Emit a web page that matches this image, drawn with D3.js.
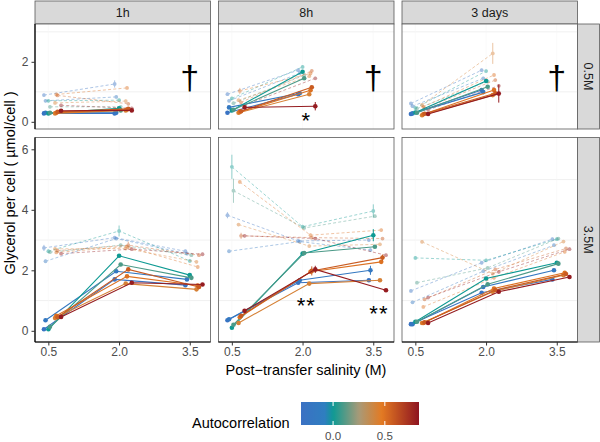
<!DOCTYPE html>
<html><head><meta charset="utf-8">
<script src="https://cdn.jsdelivr.net/npm/d3@7"></script>
<style>body{margin:0;background:#fff;} text{font-family:"Liberation Sans", Arial, Helvetica, sans-serif;}</style>
</head><body><svg id="c" width="600" height="442"></svg>
<script>
// ---------------- data ----------------
const times = ["1h", "8h", "3 days"];
const salts = ["0.5M", "3.5M"];
const salinity = [0.5, 2.0, 3.5];
const xTicks = [0.5, 2.0, 3.5];
const yTicksTop = [0, 2];
const yTicksBottom = [0, 2, 4, 6];
const legendTicks = [0.0, 0.5];
// autocorrelation of each strain (colour + horizontal offset)
const autocorr = [-0.28, -0.18, 0.0, 0.1, 0.42, 0.5, 0.58, 0.8];

// solid series (per strain), values at 0.5, 2.0, 3.5 M
const solid_05M_1h = [[0.28,0.28],[0.30,0.30],[0.28,0.45],[0.30,0.38],[0.28,0.38],[0.30,0.41],[0.33,0.43],[0.37,0.38]];
const solid_05M_8h = [[0.30,0.92],[0.48,0.95],[0.38,1.67],[0.40,1.45],[0.30,0.92],[0.33,1.05],[0.35,1.15],[0.48,0.52]];
const solid_05M_3d = [[0.26,1.06],[0.28,0.99],[0.31,1.36],[0.30,1.17],[0.22,0.89],[0.25,1.06],[0.27,0.95],[0.26,0.94]];
const solid_35M_1h = [[0.05,1.70,1.51],[0.35,1.97,1.70],[0.05,2.48,1.84],[0.13,2.19,1.75],[0.42,1.56,1.37],[0.50,1.80,1.50],[0.45,2.03,1.45],[0.46,1.59,1.53]];
const solid_35M_8h = [[0.35,1.59,1.67],[0.38,1.67,2.00],[0.10,2.55,3.16],[0.20,2.57,2.78],[0.26,1.56,1.67],[0.45,1.95,2.28],[0.50,1.98,2.42],[0.66,2.03,1.34]];
const solid_35M_3d = [[0.22,1.26,1.70],[0.22,1.45,2.00],[0.30,1.73,2.25],[0.30,1.54,2.22],[0.26,1.29,1.84],[0.26,1.40,1.92],[0.28,1.35,1.88],[0.26,1.29,1.78]];
// dashed (faint) series
const dashed_05M_1h = [[0.89,1.26],[0.70,0.83],[0.70,0.72],[0.50,0.50],[0.63,0.69],[0.91,1.13],[0.88,0.60],[0.55,0.45]];
const dashed_05M_8h = [[0.92,1.72],[0.70,1.62],[0.78,1.83],[0.62,1.55],[0.72,1.52],[1.03,1.61],[0.65,1.70],[0.55,1.45]];
const dashed_05M_3d = [[0.61,1.72],[0.52,1.45],[0.46,1.69],[0.44,1.35],[0.56,2.28],[0.50,1.56],[0.45,1.39],[0.40,1.20]];
const dashed_35M_1h = [[2.74,3.08,2.63],[2.30,3.05,2.55],[2.63,3.30,2.31],[2.60,2.83,2.50],[2.71,2.72,2.28],[2.59,2.78,2.11],[2.65,2.83,2.50],[2.55,2.70,2.53]];
const dashed_35M_8h = [[3.82,2.97,3.00],[2.63,2.95,2.67],[5.42,3.44,3.96],[4.63,3.40,3.79],[3.51,2.80,2.86],[4.92,3.16,3.33],[3.14,3.08,3.05],[3.14,3.05,2.50]];
const dashed_35M_3d = [[1.32,2.25,3.03],[0.94,1.97,2.83],[2.41,2.33,3.03],[1.59,2.08,3.05],[2.94,1.89,2.95],[0.79,1.75,2.61],[1.04,2.03,2.72],[1.10,1.95,2.70]];
// larger error bars: [row, col, dashed?, strain, pointIndex, halfWidth]
const bigErrors = [
  [0,0,1,0,1,0.12],[0,1,0,7,1,0.14],[0,1,1,5,0,0.10],[0,2,0,7,1,0.30],[0,2,1,4,1,0.35],
  [1,0,1,2,1,0.18],[1,0,1,6,1,0.12],[1,0,1,0,0,0.10],[1,1,1,2,0,0.40],[1,1,1,3,0,0.40],
  [1,1,1,2,2,0.22],[1,1,0,2,2,0.20],[1,1,0,7,1,0.12],[1,1,0,1,2,0.15],[1,1,0,6,1,0.15],
  [1,1,1,0,0,0.10],[1,1,0,6,2,0.10],[1,1,1,6,0,0.10]
];
const daggerLabel = "†";
const sigLabels = [[0,1,2.08,0.18,"*"],[1,1,2.08,1.0,"**"],[1,1,3.62,0.72,"**"]];

const seriesTable = [
  [solid_05M_1h, solid_05M_8h, solid_05M_3d],
  [solid_35M_1h, solid_35M_8h, solid_35M_3d]
];
const dashedTable = [
  [dashed_05M_1h, dashed_05M_8h, dashed_05M_3d],
  [dashed_35M_1h, dashed_35M_8h, dashed_35M_3d]
];

// ---------------- layout ----------------
const svg = d3.select("#c");
const W = 175.5, gapX = 8;
const colX = [35, 35 + W + gapX, 35 + 2 * (W + gapX)];
const rowY = [24, 137.5];
const rowH = [105, 204.5];
const yDomains = [[-0.24, 3.26], [-0.37, 6.39]];
const stripH = 23;

const x = d3.scaleLinear().domain([0.217, 3.94]).range([0, W]);
const dodge = d3.scaleLinear().domain([-0.3, 0.8]).range([-0.1, 0.27]);
const color = d3.scaleLinear()
  .domain([-0.31, -0.08, 0.0, 0.25, 0.47, 0.83])
  .range(["#3b71c3", "#2f7ec0", "#0e9a93", "#a89a78", "#e37a22", "#8e1420"])
  .interpolate(d3.interpolateRgb);

// strips
times.forEach((t, j) => {
  const g = svg.append("g").attr("transform", `translate(${colX[j]},1)`);
  g.append("rect").attr("width", W).attr("height", stripH).attr("fill", "#d9d9d9").attr("stroke", "#595959").attr("stroke-width", 0.8);
  g.append("text").attr("x", W / 2).attr("y", stripH / 2 + 4.5).attr("text-anchor", "middle").attr("font-size", 12.5).attr("fill", "#1a1a1a").text(t);
});
salts.forEach((s, i) => {
  const g = svg.append("g").attr("transform", `translate(${colX[2] + W},${rowY[i]})`);
  g.append("rect").attr("width", 22).attr("height", rowH[i]).attr("fill", "#d9d9d9").attr("stroke", "#595959").attr("stroke-width", 0.8);
  g.append("text").attr("transform", `translate(${11 - 4.5},${rowH[i] / 2}) rotate(90)`).attr("text-anchor", "middle").attr("font-size", 12.5).attr("fill", "#1a1a1a").text(s);
});

salts.forEach((s, i) => {
  const y = d3.scaleLinear().domain(yDomains[i]).range([rowH[i], 0]);
  const minor = i === 0 ? [1, 3] : [1, 3, 5];
  times.forEach((t, j) => {
    const g = svg.append("g").attr("transform", `translate(${colX[j]},${rowY[i]})`);
    g.append("rect").attr("width", W).attr("height", rowH[i]).attr("fill", "#fff");
    // grid
    g.selectAll(".gm").data(minor).join("line").attr("x1", 0).attr("x2", W)
      .attr("y1", d => y(d)).attr("y2", d => y(d)).attr("stroke", "#ececec").attr("stroke-width", 0.8);
    g.selectAll(".gv").data(xTicks).join("line").attr("y1", 0).attr("y2", rowH[i])
      .attr("x1", d => x(d)).attr("x2", d => x(d)).attr("stroke", "#f6f6f6").attr("stroke-width", 0.6);

    const clip = g.append("g");
    const line = d3.line().defined(d => d[1] != null).x(d => x(d[0])).y(d => y(d[1]));
    const draw = (table, dashed) => {
      table.forEach((vals, k) => {
        const c = color(autocorr[k]);
        const pts = vals.map((v, p) => [salinity[p] + dodge(autocorr[k]), v, p]);
        const grp = clip.append("g").attr("opacity", dashed ? 0.45 : 1);
        grp.append("path").attr("d", line(pts)).attr("fill", "none").attr("stroke", c)
          .attr("stroke-width", dashed ? 0.9 : 1.1).attr("stroke-dasharray", dashed ? "3,2.2" : null);
        pts.forEach(pt => {
          let e = 0.05;
          bigErrors.forEach(b => { if (b[0] === i && b[1] === j && b[2] === (dashed ? 1 : 0) && b[3] === k && b[4] === pt[2]) e = b[5]; });
          grp.append("line").attr("x1", x(pt[0])).attr("x2", x(pt[0])).attr("y1", y(pt[1] - e)).attr("y2", y(pt[1] + e))
            .attr("stroke", c).attr("stroke-width", 1);
          grp.append("circle").attr("cx", x(pt[0])).attr("cy", y(pt[1])).attr("r", dashed ? 1.9 : 2.3).attr("fill", c);
        });
      });
    };
    draw(dashedTable[i][j], true);
    draw(seriesTable[i][j], false);

    if (i === 0) {
      g.append("text").attr("x", x(3.5)).attr("y", y(1.5) + 12).attr("text-anchor", "middle")
        .attr("font-size", 34).attr("fill", "#000").text(daggerLabel);
    }
    sigLabels.filter(l => l[0] === i && l[1] === j).forEach(l => {
      g.append("text").attr("x", x(l[2])).attr("y", y(l[3]) + 12).attr("text-anchor", "middle")
        .attr("font-size", 22).attr("fill", "#000").attr("letter-spacing", 1).text(l[4]);
    });

    // border
    g.append("rect").attr("width", W).attr("height", rowH[i]).attr("fill", "none").attr("stroke", "#595959").attr("stroke-width", 0.8);

    if (j === 0) {
      const ax = g.append("g").call(d3.axisLeft(y).tickValues(i === 0 ? yTicksTop : yTicksBottom).tickFormat(d3.format("d")).tickSize(3.5).tickPadding(3));
      ax.select(".domain").attr("stroke", "#000").attr("stroke-width", 1.2).attr("d", `M0,0V${rowH[i]}`);
      ax.selectAll(".tick line").attr("stroke", "#333");
      ax.selectAll("text").attr("font-size", 12).attr("fill", "#4d4d4d").style("font-family", '"Liberation Sans", Arial, sans-serif');
    }
    if (i === 1) {
      const ax = g.append("g").attr("transform", `translate(0,${rowH[i]})`)
        .call(d3.axisBottom(x).tickValues(xTicks).tickFormat(d3.format(".1f")).tickSize(3.5).tickPadding(2));
      ax.select(".domain").attr("stroke", "#000").attr("stroke-width", 1.2).attr("d", `M0,0H${W}`);
      ax.selectAll(".tick line").attr("stroke", "#333");
      ax.selectAll("text").attr("font-size", 12).attr("fill", "#4d4d4d").style("font-family", '"Liberation Sans", Arial, sans-serif');
    }
  });
});

// axis titles
svg.append("text").attr("transform", `translate(15,183) rotate(-90)`).attr("text-anchor", "middle")
  .attr("font-size", 14.5).attr("fill", "#000").text("Glycerol per cell ( µmol/cell )");
svg.append("text").attr("x", 306).attr("y", 375).attr("text-anchor", "middle")
  .attr("font-size", 14.5).attr("fill", "#000").text("Post\u2212transfer salinity (M)");

// legend
const lg = svg.append("g");
lg.append("text").attr("x", 192).attr("y", 428).attr("font-size", 14.5).attr("fill", "#000").text("Autocorrelation");
const defs = svg.append("defs");
const grad = defs.append("linearGradient").attr("id", "gr").attr("x1", "0%").attr("x2", "100%");
const lx = d3.scaleLinear().domain([-0.31, 0.83]).range([301, 419]);
d3.range(0, 1.0001, 0.02).forEach(f => {
  const v = -0.31 + f * (0.83 + 0.31);
  grad.append("stop").attr("offset", (f * 100) + "%").attr("stop-color", color(v));
});
lg.append("rect").attr("x", 301).attr("y", 402).attr("width", 118).attr("height", 23).attr("fill", "url(#gr)");
legendTicks.forEach(t => {
  lg.append("line").attr("x1", lx(t)).attr("x2", lx(t)).attr("y1", 402).attr("y2", 406).attr("stroke", "#fff").attr("stroke-width", 1);
  lg.append("line").attr("x1", lx(t)).attr("x2", lx(t)).attr("y1", 421).attr("y2", 425).attr("stroke", "#fff").attr("stroke-width", 1);
  lg.append("text").attr("x", lx(t)).attr("y", 440).attr("text-anchor", "middle").attr("font-size", 11.5).attr("fill", "#4d4d4d").text(d3.format(".1f")(t));
});
</script></body></html>
